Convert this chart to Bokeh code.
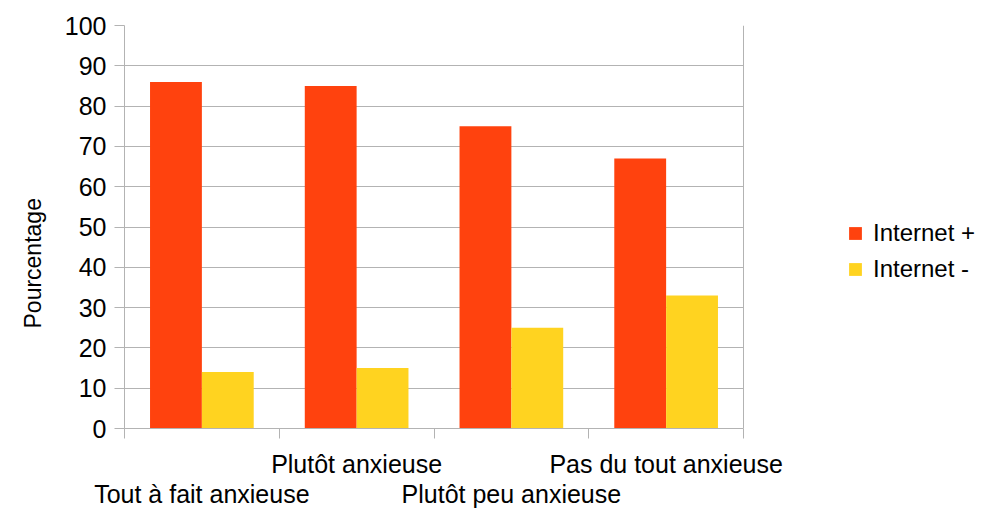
from bokeh.plotting import figure
from bokeh.models import (Range1d, FixedTicker, LinearAxis, Legend, LegendItem, Title, Span)
from bokeh.embed import file_html
from bokeh.resources import INLINE
import numpy as np

categories = ["Tout à fait anxieuse", "Plutôt anxieuse", "Plutôt peu anxieuse", "Pas du tout anxieuse"]
internet_plus = [86, 85, 75, 67]
internet_minus = [14, 15, 25, 33]
series_names = ["Internet +", "Internet -"]
y_ticks = list(range(0, 101, 10))

ORANGE = "#ff420e"
YELLOW = "#ffd320"
GRID = "#b3b3b3"
FONT = "Liberation Sans"
FS = "25px"

W, H = 983, 510
PLOT_L, PLOT_R = 124, 743          # plot-area edges in pixels
ncat = len(categories)
x_end = ncat * (W - PLOT_L) / (PLOT_R - PLOT_L)   # frame extends to the right edge (legend area)

p = figure(width=W, height=H, x_range=Range1d(0, x_end), y_range=Range1d(0, 100),
           output_backend="svg", toolbar_location=None,
           min_border_left=PLOT_L, min_border_right=0, min_border_top=25, min_border_bottom=81)
p.xaxis.visible = False
p.yaxis.visible = False
p.xgrid.visible = False
p.outline_line_color = None
p.background_fill_color = "white"
p.border_fill_color = "white"

idx = np.arange(ncat)
bw = 0.335
r1 = p.vbar(x=idx + 0.5 - bw / 2, top=internet_plus, width=bw, bottom=0,
            fill_color=ORANGE, line_color=None)
r2 = p.vbar(x=idx + 0.5 + bw / 2, top=internet_minus, width=bw, bottom=0,
            fill_color=YELLOW, line_color=None)

# y axis
yax = LinearAxis(ticker=FixedTicker(ticks=y_ticks, minor_ticks=[]))
yax.axis_line_color = GRID
yax.major_tick_line_color = GRID
yax.major_tick_out = 10
yax.major_tick_in = 0
yax.minor_tick_line_color = None
yax.major_label_text_font = FONT
yax.major_label_text_font_size = FS
yax.major_label_text_color = "black"
yax.major_label_standoff = 8
p.add_layout(yax, "left")
p.ygrid.ticker = FixedTicker(ticks=y_ticks)
p.ygrid.grid_line_color = GRID
p.ygrid.cross_bounds = (0, ncat)

# right edge of plot area
p.add_layout(Span(location=ncat, dimension="height", line_color=GRID, line_width=1))

title = Title(text="Pourcentage", align="left", offset=100,
              text_font=FONT, text_font_size="23px", text_font_style="normal",
              text_color="black", standoff=32)
p.add_layout(title, "left")

centers = (idx + 0.5).tolist()
bounds = list(range(ncat + 1))

# upper row labels + boundary ticks
xa = LinearAxis(ticker=FixedTicker(ticks=centers[1::2], minor_ticks=bounds), bounds=(0, ncat))
xa.major_label_overrides = {c: categories[i] for i, c in enumerate(centers)}
xa.axis_line_color = GRID
xa.major_tick_line_color = None
xa.major_tick_out = 0
xa.major_tick_in = 0
xa.minor_tick_line_color = GRID
xa.minor_tick_out = 10
xa.minor_tick_in = 0
xa.major_label_text_font = FONT
xa.major_label_text_font_size = FS
xa.major_label_text_color = "black"
xa.major_label_standoff = 11
p.add_layout(xa, "below")

# lower row labels
xb = LinearAxis(ticker=FixedTicker(ticks=centers[0::2], minor_ticks=[]), bounds=(0, ncat))
xb.major_label_overrides = {c: categories[i] for i, c in enumerate(centers)}
xb.axis_line_color = None
xb.major_tick_line_color = None
xb.minor_tick_line_color = None
xb.major_tick_out = 0
xb.major_tick_in = 0
xb.major_label_text_font = FONT
xb.major_label_text_font_size = FS
xb.major_label_text_color = "black"
xb.major_label_standoff = -1
p.add_layout(xb, "below")

legend = Legend(items=[LegendItem(label=series_names[0], renderers=[r1]),
                       LegendItem(label=series_names[1], renderers=[r2])],
                location=(723, 145))
legend.glyph_width = 16
legend.glyph_height = 16
legend.label_height = 28
legend.spacing = 8
legend.padding = 0
legend.margin = 0
legend.label_standoff = 10
legend.border_line_color = None
legend.background_fill_alpha = 0
legend.label_text_font = FONT
legend.label_text_font_size = "24px"
legend.label_text_color = "black"
p.add_layout(legend, "center")

open("out.html", "w").write(file_html(p, INLINE))
